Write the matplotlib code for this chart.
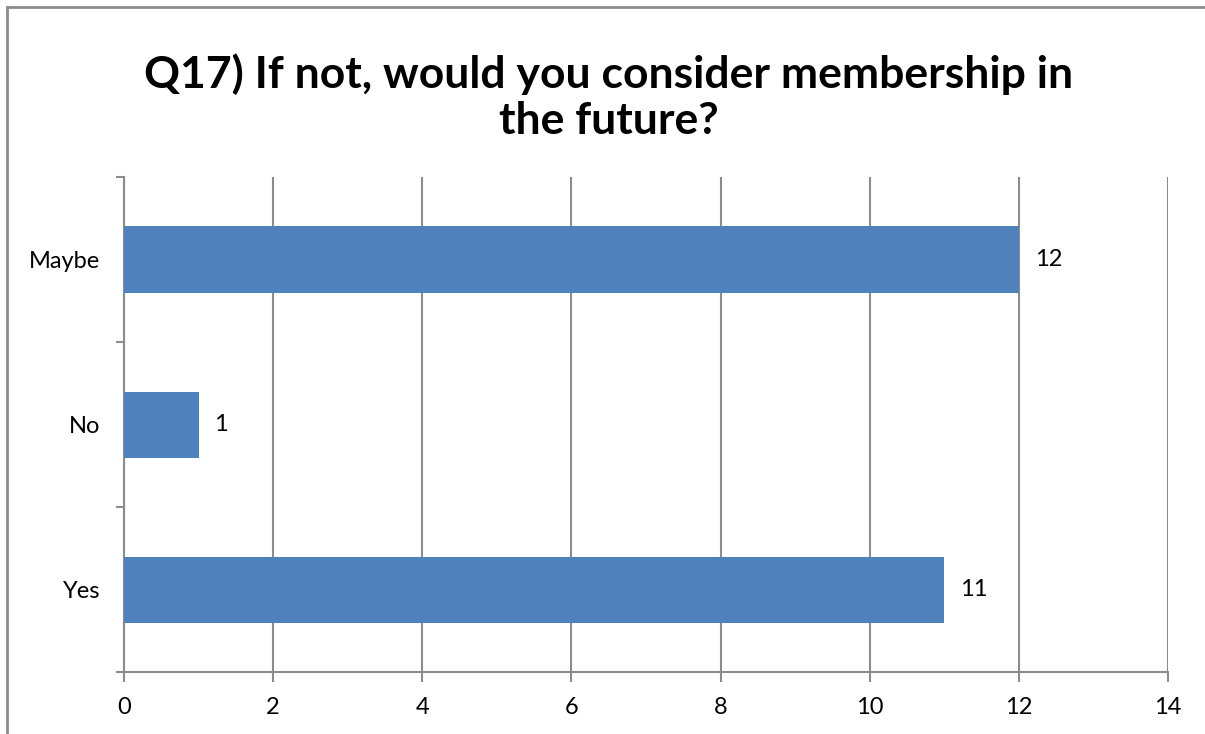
import matplotlib
matplotlib.use("Agg")
import matplotlib.pyplot as plt
from matplotlib.lines import Line2D

# datos de la encuesta
categorias = ["Yes", "No", "Maybe"]
respuestas = [11, 1, 12]
ticks_x = [0, 2, 4, 6, 8, 10, 12, 14]
titulo = "Q17) If not, would you consider membership in\nthe future?"

plt.rcParams['font.family'] = ['Lato', 'DejaVu Sans']
gris = "#8c8c8c"

fig = plt.figure(figsize=(12.05, 7.34), dpi=100)
ax = fig.add_axes([124 / 1205, 62 / 734, 1044 / 1205, 495 / 734])

pos = list(range(len(categorias)))
ax.barh(pos, respuestas, height=0.4, color="#4F81BD", zorder=3)
for p, v in zip(pos, respuestas):
    ax.text(v + 0.21, p, str(v), va="center", ha="left", fontsize=17)

ax.set_xlim(0, 14)
ax.set_ylim(-0.5, 2.5)
ax.set_xticks(ticks_x)
ax.set_xticklabels([str(t) for t in ticks_x], fontsize=17)
ax.set_yticks(pos)
ax.set_yticklabels(categorias, fontsize=17)
ax.set_yticks([-0.5, 0.5, 1.5, 2.5], minor=True)
ax.tick_params(axis="y", which="major", length=0, pad=17)
ax.tick_params(axis="y", which="minor", length=6, width=1.5, color=gris, direction="out")
ax.tick_params(axis="x", length=7, width=1.5, color=gris, direction="out", pad=11)
ax.xaxis.grid(True, color=gris, linewidth=1.5, zorder=0)
ax.set_axisbelow(True)
for lado in ["top", "right"]:
    ax.spines[lado].set_visible(False)
for lado in ["left", "bottom"]:
    ax.spines[lado].set_color(gris)
    ax.spines[lado].set_linewidth(1.5)

fig.text(0.505, 0.927, titulo, ha="center", va="top", fontsize=32,
         fontweight="bold", linespacing=1.18)

# borde del grafico
fig.add_artist(Line2D([7 / 1205, 7 / 1205], [0, 1 - 7 / 734], transform=fig.transFigure, color=gris, lw=2))
fig.add_artist(Line2D([7 / 1205, 1], [1 - 7 / 734, 1 - 7 / 734], transform=fig.transFigure, color=gris, lw=2))

fig.savefig("out.png", dpi=100)
